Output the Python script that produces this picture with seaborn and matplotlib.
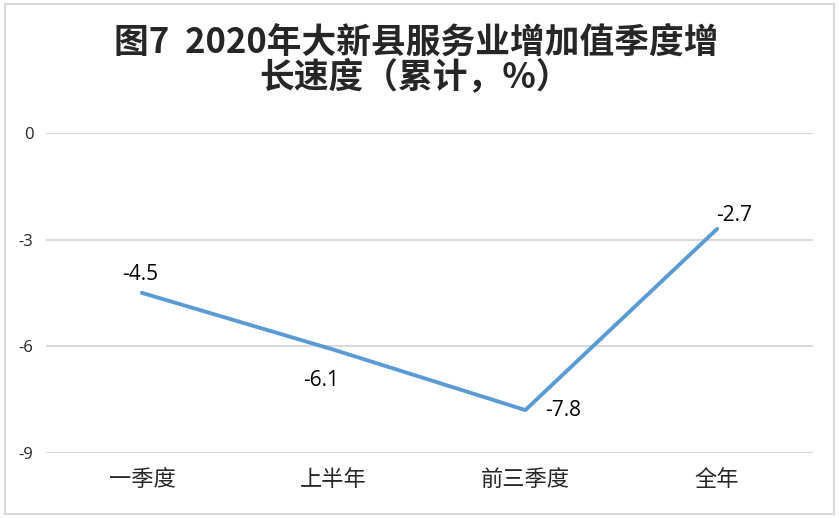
import matplotlib
matplotlib.use("Agg")
import matplotlib.pyplot as plt
import seaborn as sns
import pandas as pd
from matplotlib.patches import Rectangle

categories = ["一季度", "上半年", "前三季度", "全年"]
values = [-4.5, -6.1, -7.8, -2.7]
yticks = [0, -3, -6, -9]
title_lines = ["图7  2020年大新县服务业增加值季度增", "长速度（累计，%）"]

sns.set_theme(style="white")
plt.rcParams['font.family'] = ['Noto Sans CJK SC', 'DejaVu Sans']

df = pd.DataFrame({"cat": categories, "val": values})

fig = plt.figure(figsize=(8.39, 5.18), dpi=100)
ax = fig.add_axes([46/839, 1-452.7/518, (813-46)/839, (452.7-133)/518])
sns.lineplot(data=df, x="cat", y="val", ax=ax, color="#5B9BD5", linewidth=2.8,
             sort=False, solid_capstyle="round")

ax.set_xlim(-0.5, len(categories) - 0.5)
ax.set_ylim(-9, 0)
ax.set_yticks(yticks)
ax.set_yticklabels([str(t) for t in yticks], fontsize=12, family=['Open Sans', 'DejaVu Sans'])
ax.set_xticks(range(len(categories)))
ax.set_xticklabels(categories, fontsize=16, fontweight='light')
ax.tick_params(axis='y', length=0, pad=9)
ax.tick_params(axis='x', length=0, pad=11)
ax.set_xlabel("")
ax.set_ylabel("")
for s in ax.spines.values():
    s.set_visible(False)
ax.yaxis.grid(True, color="#D9D9D9", linewidth=1.5)
ax.set_axisbelow(True)
ax.patch.set_alpha(0)

offsets = [(-1.5, 13), (-9, -22), (27, 0), (12, 10)]
for i, (v, off) in enumerate(zip(values, offsets)):
    ax.annotate(str(v), xy=(i, v), xytext=off, textcoords="offset points",
                ha="center", va="center", fontsize=15,
                family=['Open Sans', 'DejaVu Sans'], color="black")

fig.text(416/839, 1-42/518, title_lines[0], ha="center", va="center", fontsize=25,
         fontweight="bold")
fig.text(415/839, 1-78/518, title_lines[1], ha="center", va="center", fontsize=25,
         fontweight="bold")

fig.patches.append(Rectangle((5/839, 4/518), 829/839, 510/518, transform=fig.transFigure,
                             fill=False, edgecolor="#D9D9D9", linewidth=1.5))

fig.savefig("out.png", dpi=100)
